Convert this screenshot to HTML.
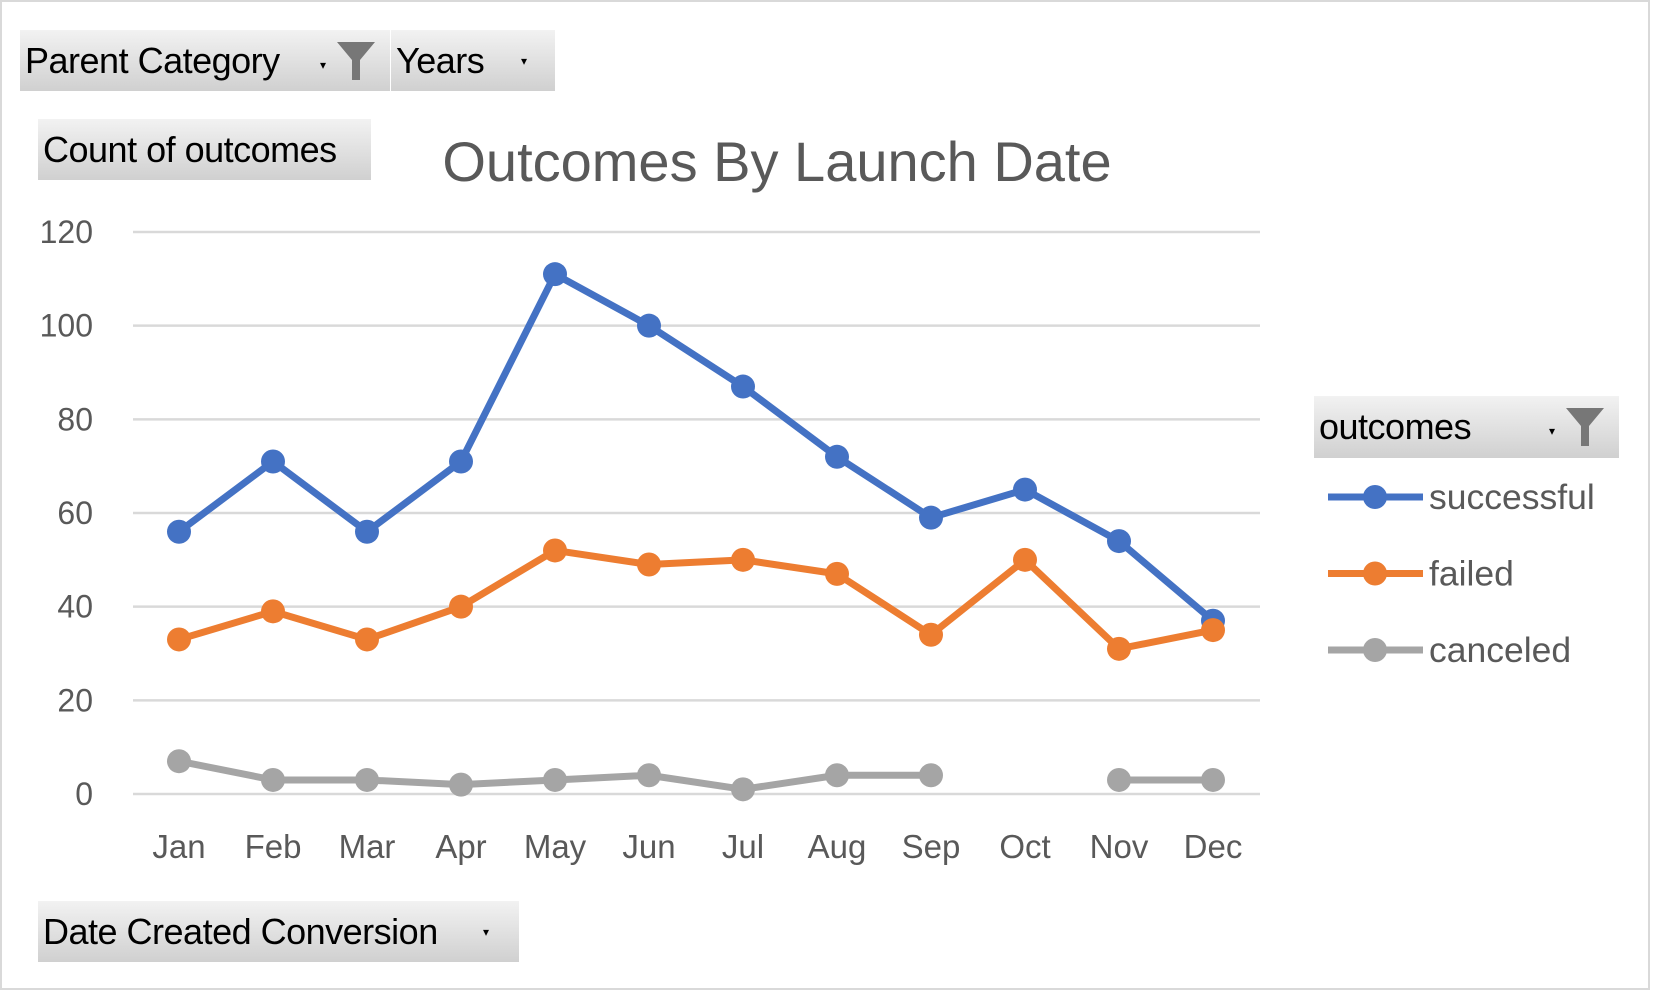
<!DOCTYPE html>
<html><head><meta charset="utf-8"><style>
body{margin:0;width:1653px;height:993px;background:#fff;overflow:hidden;font-family:"Liberation Sans",sans-serif}
.btn{position:absolute;background:linear-gradient(#f2f2f2,#d0d0d0);color:#000;font-size:36px;box-sizing:border-box;padding-left:5px;display:flex;align-items:center;letter-spacing:-0.5px}
</style></head><body>
<div style="position:absolute;left:0;top:0;width:1650px;height:990px;border:2px solid #d9d9d9;box-sizing:border-box"></div>
<div class="btn" style="left:20px;top:30px;width:370px;height:61px">Parent Category<span style="position:absolute;left:300px;top:28px;font-size:12px">▾</span>
<svg style="position:absolute;left:315px;top:10px" width="42" height="42"><path d="M2 2H40L25 20V40H17V20Z" fill="#777"/></svg></div>
<div class="btn" style="left:391px;top:30px;width:164px;height:61px">Years<span style="position:absolute;left:130px;top:24px;font-size:12px">▾</span></div>
<div class="btn" style="left:38px;top:119px;width:333px;height:61px">Count of outcomes</div>
<div class="btn" style="left:38px;top:901px;width:481px;height:61px">Date Created Conversion<span style="position:absolute;left:445px;top:24px;font-size:12px">▾</span></div>
<div class="btn" style="left:1314px;top:396px;width:305px;height:62px">outcomes<span style="position:absolute;left:235px;top:28px;font-size:12px">▾</span>
<svg style="position:absolute;left:250px;top:10px" width="42" height="42"><path d="M2 2H40L25 20V40H17V20Z" fill="#777"/></svg></div>
<div style="position:absolute;left:377px;top:129px;width:800px;text-align:center;font-size:56px;color:#595959">Outcomes By Launch Date</div>
<svg id="c" width="1653" height="993" style="position:absolute;left:0;top:0;pointer-events:none"></svg>
<script>
const months=["Jan","Feb","Mar","Apr","May","Jun","Jul","Aug","Sep","Oct","Nov","Dec"];
const successful=[56,71,56,71,111,100,87,72,59,65,54,37];
const failed=[33,39,33,40,52,49,50,47,34,50,31,35];
const canceled=[7,3,3,2,3,4,1,4,4,null,3,3];
const yTicks=[0,20,40,60,80,100,120];
const seriesNames=["successful","failed","canceled"];
const svg=document.getElementById('c');const NS="http://www.w3.org/2000/svg";
const x=i=>179+i*94, y=v=>794-v*(794-232)/120;
function mk(t,a){const e=document.createElementNS(NS,t);for(const k in a)e.setAttribute(k,a[k]);svg.appendChild(e);return e;}
yTicks.forEach(t=>{const l=mk('line',{x1:133,x2:1260,y1:y(t),y2:y(t),stroke:'#d9d9d9','stroke-width':2.5});


const tx=mk('text',{x:93,y:y(t)+11,'text-anchor':'end','font-size':32,fill:'#595959','font-family':'Liberation Sans'});tx.textContent=t;

});
months.forEach((m,i)=>{const tx=mk('text',{x:x(i),y:858,'text-anchor':'middle','font-size':33,fill:'#595959','font-family':'Liberation Sans'});tx.textContent=m;

});
const cols=["#4472C4","#ED7D31","#A5A5A5"];
[successful,failed,canceled].forEach((d,s)=>{let seg=[];const segs=[];d.forEach((v,i)=>{if(v==null){if(seg.length)segs.push(seg);seg=[];}else seg.push([x(i),y(v)]);});if(seg.length)segs.push(seg);
segs.forEach(sg=>{const p=mk('polyline',{points:sg.map(q=>q.join(',')).join(' '),fill:'none',stroke:cols[s],'stroke-width':7,'stroke-linejoin':'round'});

});
d.forEach((v,i)=>{if(v==null)return;const c=mk('circle',{cx:x(i),cy:y(v),r:12,fill:cols[s]});

});
const ly=497+s*76.5;const ll=mk('line',{x1:1328,x2:1423,y1:ly,y2:ly,stroke:cols[s],'stroke-width':7});


mk('circle',{cx:1375,cy:ly,r:12,fill:cols[s]});
const lt=mk('text',{x:1429,y:ly+12,'font-size':35.5,fill:'#595959','font-family':'Liberation Sans'});lt.textContent=seriesNames[s];

});
</script>
</body></html>
